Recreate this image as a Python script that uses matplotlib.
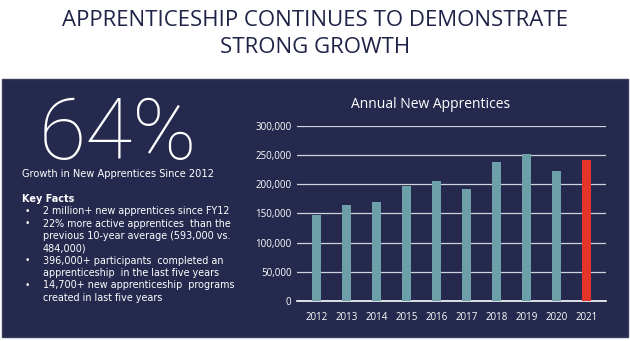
import matplotlib.pyplot as plt
import matplotlib.patches as mpatches
from matplotlib.ticker import FuncFormatter

# ── Data ──────────────────────────────────────────────────────────────────────
years = ["2012", "2013", "2014", "2015", "2016", "2017", "2018", "2019", "2020", "2021"]
new_apprentices = [147000, 164000, 170000, 197000, 206000, 191000, 238000, 251000, 222000, 241000]
y_ticks = [0, 50000, 100000, 150000, 200000, 250000, 300000]

headline = "64%"
headline_sub = "Growth in New Apprentices Since 2012"
key_facts = [
    ["2 million+ new apprentices since FY12"],
    ["22% more active apprentices  than the", "previous 10-year average (593,000 vs.", "484,000)"],
    ["396,000+ participants  completed an", "apprenticeship  in the last five years"],
    ["14,700+ new apprenticeship  programs", "created in last five years"],
]

NAVY = "#25294d"
TEAL = "#6d9fa9"
RED = "#e5352a"

plt.rcParams["font.family"] = ["DejaVu Sans"]

W, H = 630, 341
fig = plt.figure(figsize=(W / 100, H / 100), dpi=100)
fig.patch.set_facecolor("white")

# slide title
fig.text(0.5, 1 - 34 / H, "APPRENTICESHIP CONTINUES TO DEMONSTRATE\nSTRONG GROWTH",
         ha="center", va="center", fontsize=16, color="#1f2347",
         family="Open Sans", linespacing=1.4)

# navy panel
fig.patches.append(mpatches.Rectangle((2 / W, 1 - 337 / H), 626 / W, 258 / H,
                                      transform=fig.transFigure, facecolor=NAVY,
                                      edgecolor="#3a3e5e", linewidth=1, zorder=-1))

# left side text
fig.text(39 / W, 1 - 159 / H, headline, ha="left", va="baseline", fontsize=62,
         color="white", fontweight="light", family="Roboto")
fig.text(22 / W, 1 - 174 / H, headline_sub, ha="left", va="center",
         fontsize=7.1, color="white")
fig.text(22 / W, 1 - 199 / H, "Key Facts", ha="left", va="center",
         fontsize=7, color="white", fontweight="bold")
y = 211.5
for fact in key_facts:
    fig.text(25 / W, 1 - y / H, "•", ha="left", va="center", fontsize=6.5, color="white")
    for line in fact:
        fig.text(43 / W, 1 - y / H, line, ha="left", va="center", fontsize=6.9, color="white")
        y += 12.3

# bar chart
ax = fig.add_axes([297 / W, 1 - 301 / H, (606 - 297) / W, (301 - 125.7) / H])
ax.set_facecolor(NAVY)
colors = [TEAL] * (len(years) - 1) + [RED]
ax.bar(years, new_apprentices, width=0.32, color=colors, zorder=3)
ax.set_ylim(0, 300000)
ax.set_xlim(-0.65, len(years) - 0.35)
ax.set_yticks(y_ticks)
ax.yaxis.set_major_formatter(FuncFormatter(lambda v, _: f"{int(v):,}"))
ax.grid(axis="y", color="#d0d2dc", linewidth=0.9, zorder=1)
for side in ["top", "right", "left"]:
    ax.spines[side].set_visible(False)
ax.spines["bottom"].set_color("white")
ax.spines["bottom"].set_linewidth(1.2)
ax.tick_params(length=0, colors="white", labelsize=7)
ax.tick_params(axis="x", pad=8)
ax.tick_params(axis="y", pad=4)
for lbl in ax.get_xticklabels() + ax.get_yticklabels():
    lbl.set_family("Open Sans")
fig.text(431 / W, 1 - 105 / H, "Annual New Apprentices", ha="center", va="center",
         color="white", fontsize=10, family="Open Sans")

fig.savefig("out.png", dpi=100, facecolor=fig.get_facecolor())
